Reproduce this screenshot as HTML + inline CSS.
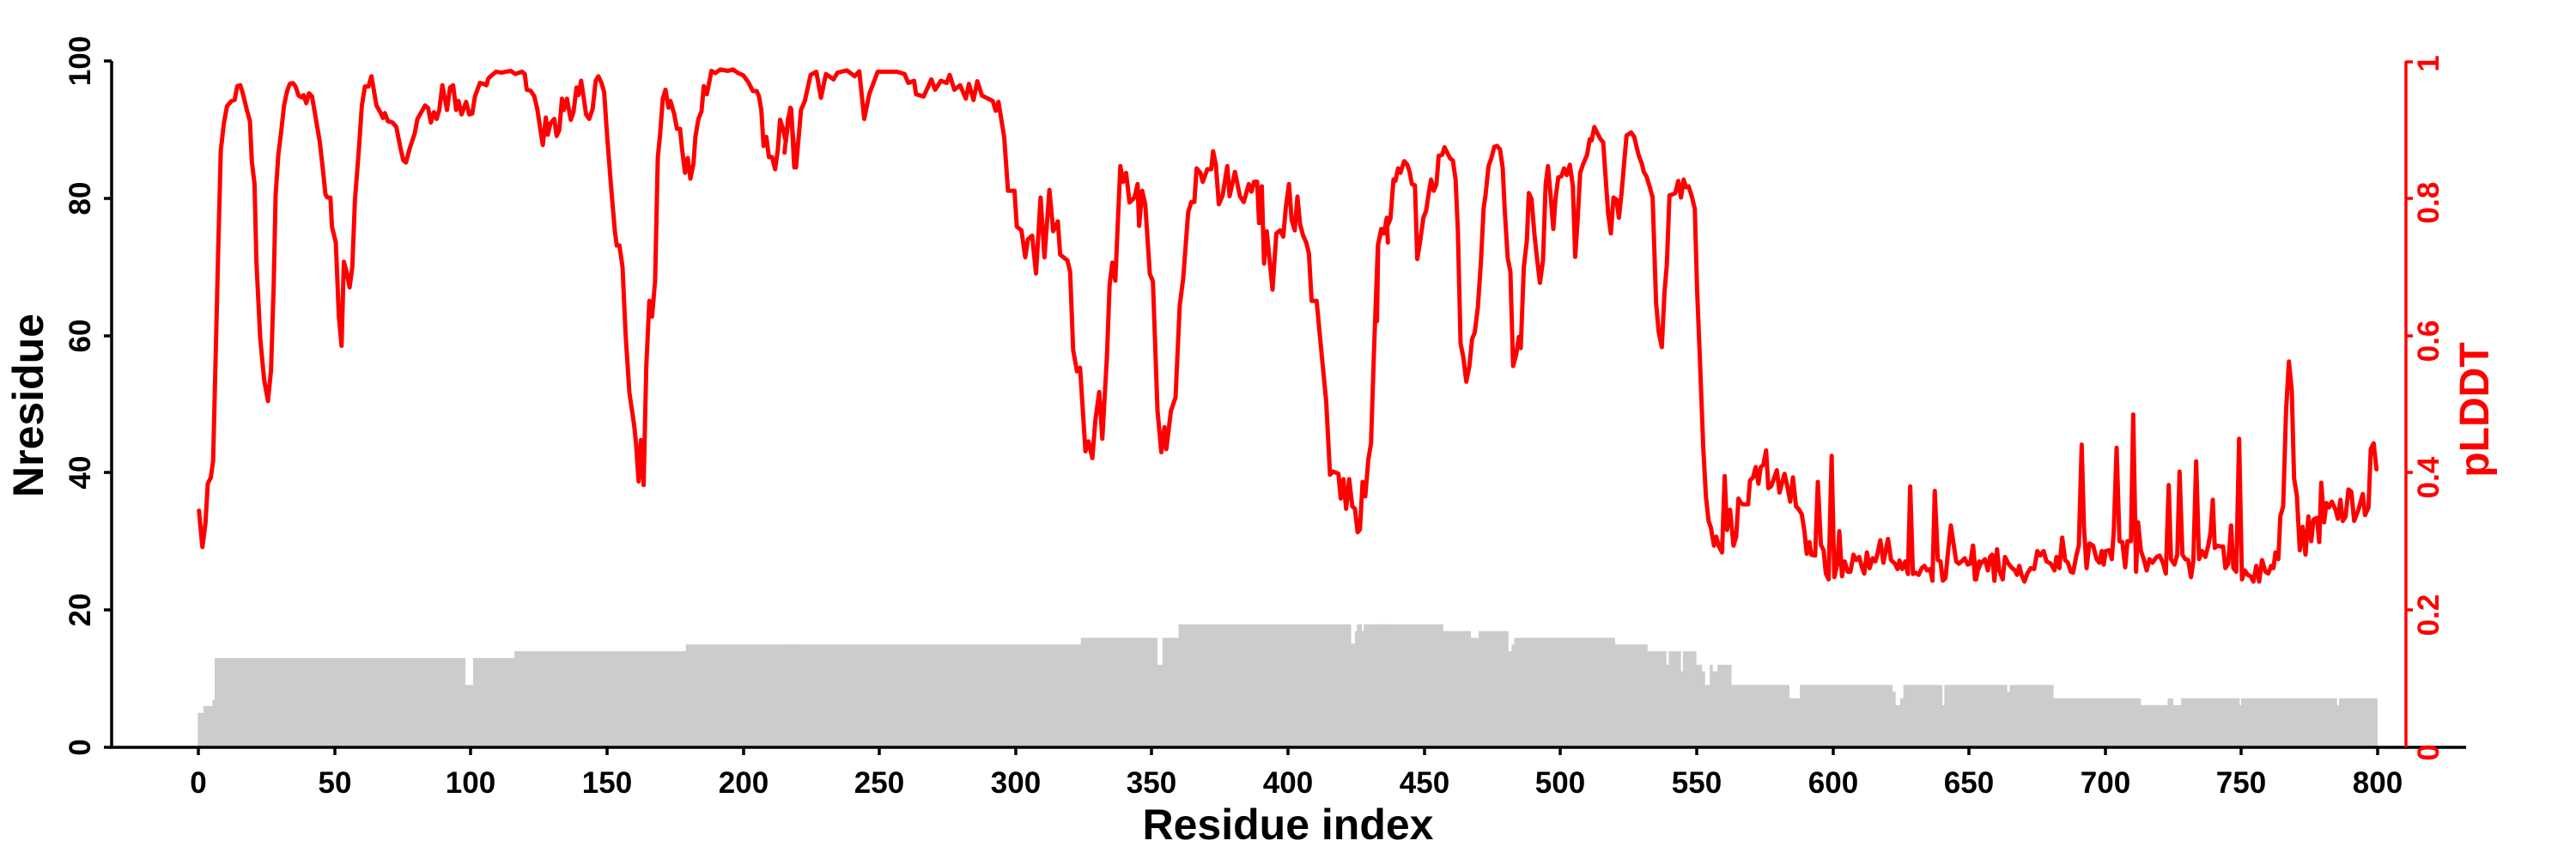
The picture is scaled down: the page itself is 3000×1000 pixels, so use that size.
<!DOCTYPE html>
<html><head><meta charset="utf-8"><style>
html,body{margin:0;padding:0;background:#fff;}
svg{display:block;}
text{font-family:"Liberation Sans",Arial,sans-serif;font-weight:bold;}
</style></head><body>
<svg width="3000" height="1000" viewBox="0 0 3000 1000" xmlns="http://www.w3.org/2000/svg">
<rect width="3000" height="1000" fill="#fff"/>
<g fill="#cccccc">
<g transform="translate(225,60) scale(0.44643,0.52296)">
<path d="M12,1548 V1472 H27 V1457 H50 V1443 H56 V1350 H710 V1410 H730 V1350 H838 V1335 H1285 V1320 H1572 V1548 Z"/>
</g>
<g transform="translate(915,60) scale(0.44643,0.52296)">
<path d="M0,1548 V1320 H770 V1305 H970 V1365 H983 V1305 H1025 V1275 H1475 V1318 H1485 V1290 H1490 V1275 H1503 V1290 H1508 V1275 H1572 V1548 Z"/>
</g>
<g transform="translate(1605,60) scale(0.44643,0.52296)">
<path d="M0,1548 V1275 H170 V1290 H242 V1305 H262 V1290 H340 V1335 H348 V1320 H355 V1305 H618 V1320 H703 V1335 H752 V1365 H758 V1335 H790 V1380 H795 V1335 H830 V1365 H845 V1380 H853 V1410 H865 V1365 H873 V1380 H885 V1365 H922 V1410 H1073 V1440 H1100 V1410 H1342 V1425 H1350 V1455 H1362 V1440 H1370 V1410 H1472 V1455 H1477 V1410 H1572 V1548 Z"/>
</g>
<g transform="translate(2295,60) scale(0.33333,0.52296)">
<path d="M0,1548 V1410 H128 V1425 H136 V1410 H290 V1440 H595 V1455 H688 V1440 H708 V1455 H735 V1440 H940 V1455 H945 V1440 H1280 V1455 H1287 V1440 H1422 V1548 Z"/>
</g>
</g>
<g fill="none" stroke="#ff0000" stroke-width="5" stroke-linejoin="round" stroke-linecap="round">
<g transform="translate(225,60) scale(0.44643,0.52296)">
<polyline vector-effect="non-scaling-stroke" points="15,1022 24,1103 32,1050 38,962 46,948 52,910 58,700 65,450 72,220 80,160 88,122 100,110 108,108 115,77 123,75 130,95 140,130 148,155 153,245 160,295 165,470 175,640 185,730 195,778 203,710 210,520 215,320 222,230 230,175 237,120 245,88 252,72 260,70 267,78 275,98 283,102 288,97 295,115 302,93 310,100 320,150 330,200 338,260 345,318 350,325 358,325 362,390 372,425 380,590 387,655 393,468 400,490 408,525 415,480 422,330 432,220 440,120 448,78 457,78 465,55 472,90 478,120 488,135 495,148 500,137 508,155 520,158 530,168 540,212 548,242 555,247 565,215 578,182 585,150 595,135 605,120 613,126 620,158 628,135 635,150 642,130 650,75 662,130 670,80 678,75 686,130 692,110 700,140 712,112 720,140 728,138 735,100 748,70 758,72 765,75 770,60 780,52 790,45 805,47 815,45 828,43 840,50 858,45 865,50 870,85 880,87 890,100 898,130 905,170 912,208 920,147 925,185 932,160 942,150 948,188 955,175 962,105 967,130 975,105 985,152 992,135 1000,80 1005,97 1012,65 1020,110 1025,140 1033,150 1042,128 1050,65 1057,55 1065,70 1072,90 1080,190 1090,300 1100,400 1105,432 1112,432 1120,480 1128,630 1138,760 1150,830 1155,870 1162,957 1168,865 1175,965 1182,700 1190,555 1197,590 1205,510 1212,235 1218,185 1225,105 1232,85 1240,125 1245,110 1255,140 1262,172 1270,172 1275,215 1283,270 1290,237 1297,283 1305,250 1310,190 1318,150 1326,133 1332,77 1340,95 1352,43 1362,48 1375,40 1395,43 1408,40 1420,47 1435,53 1448,68 1460,88 1470,88 1476,100 1482,130 1488,210 1495,190 1502,235 1510,235 1518,262 1525,220 1531,152 1538,170 1546,200 1552,148 1560,128 1568,258 1571,225"/>
</g>
<g transform="translate(915,60) scale(0.44643,0.52296)">
<polyline vector-effect="non-scaling-stroke" points="-3,225 0,200 12,125 27,258 40,130 50,110 65,52 80,45 92,103 105,50 125,62 135,47 160,42 180,55 192,44 205,150 218,95 240,45 265,45 290,45 310,50 320,70 335,65 340,95 360,100 380,62 390,85 405,65 420,70 428,52 440,85 455,75 470,105 478,72 490,108 500,66 512,98 540,110 548,132 555,112 570,190 580,310 597,310 603,390 615,398 625,458 632,418 643,410 653,494 665,325 675,458 688,308 698,400 710,378 716,452 735,465 742,490 750,665 760,712 768,704 782,890 790,868 800,905 808,820 818,758 826,862 838,680 845,520 852,470 860,510 865,410 873,255 880,290 888,270 897,336 910,325 918,295 922,388 930,310 938,340 950,495 958,512 970,800 980,892 988,836 993,885 1005,800 1017,770 1028,565 1037,505 1050,358 1058,335 1066,335 1072,260 1082,270 1088,290 1100,262 1110,262 1115,222 1122,250 1130,340 1140,320 1152,255 1158,322 1172,268 1185,322 1195,335 1208,295 1215,312 1222,290 1230,290 1235,382 1242,300 1248,472 1255,400 1270,530 1280,405 1290,398 1298,412 1305,345 1313,295 1320,375 1328,398 1335,323 1342,385 1350,410 1358,425 1365,450 1372,555 1385,555 1400,690 1410,778 1420,942 1428,935 1442,940 1448,995 1455,952 1462,1018 1470,952 1478,1012 1485,1018 1492,1070 1498,1064 1505,958 1512,990 1520,908 1527,872 1535,660 1545,430 1555,395 1562,400 1568,370 1571,425"/>
</g>
<g transform="translate(1605,60) scale(0.44643,0.52296)">
<polyline vector-effect="non-scaling-stroke" points="-3,600 0,430 8,395 15,405 22,393 32,372 40,285 45,288 52,260 58,270 68,244 76,252 82,268 88,295 96,298 102,462 110,420 118,370 125,355 132,315 138,285 145,310 152,295 158,232 167,230 173,213 180,225 188,238 195,243 202,285 208,400 215,650 222,680 230,735 238,700 245,640 252,625 260,570 268,470 275,350 280,320 288,255 295,238 303,212 310,210 318,218 325,260 330,350 338,460 345,490 352,700 360,675 367,635 372,660 380,480 388,420 393,315 400,328 408,410 415,465 422,515 430,465 437,295 443,255 450,322 457,395 463,325 470,280 478,278 485,260 492,275 500,252 508,300 514,457 520,380 527,270 535,250 545,230 552,195 557,198 564,168 572,182 580,195 587,202 595,300 600,360 607,405 614,325 622,330 628,370 635,315 642,245 648,187 660,180 668,190 675,215 680,232 688,250 693,268 700,278 708,300 716,325 725,560 732,625 740,658 747,535 753,475 760,320 768,318 775,315 783,288 790,325 797,285 803,302 810,300 818,322 826,350 832,530 840,700 848,880 855,990 862,1045 868,1060 876,1100 882,1080 888,1100 897,1115 904,945 910,1065 918,1020 927,1100 934,1080 940,995 946,1005 952,1008 960,1008 965,1008 970,955 978,948 985,925 992,962 998,925 1005,920 1012,888 1018,972 1025,968 1032,952 1040,932 1047,982 1053,962 1060,940 1068,970 1075,1002 1082,948 1090,1012 1098,1020 1105,1030 1112,1068 1118,1118 1125,1092 1130,1120 1140,1122 1147,958 1155,1098 1162,1110 1168,1162 1175,1175 1183,900 1190,1170 1198,1140 1203,1068 1210,1168 1217,1135 1225,1158 1232,1158 1240,1120 1247,1132 1255,1125 1262,1148 1268,1162 1275,1115 1282,1150 1290,1128 1297,1135 1302,1120 1310,1088 1318,1138 1330,1085 1338,1132 1348,1140 1355,1152 1360,1133 1367,1152 1375,1135 1382,1163 1388,968 1395,1163 1402,1160 1410,1165 1418,1150 1425,1145 1432,1155 1440,1152 1446,1178 1452,978 1460,1132 1467,1135 1473,1178 1480,1172 1487,1110 1494,1055 1500,1090 1508,1135 1515,1140 1522,1135 1530,1128 1538,1142 1545,1140 1552,1100 1560,1175 1568,1135"/>
</g>
<g transform="translate(2295,60) scale(0.33333,0.52296)">
<polyline vector-effect="non-scaling-stroke" points="-8,1140 0,1135 8,1100 15,1175 25,1155 35,1140 50,1130 60,1155 68,1125 75,1120 83,1178 92,1108 100,1155 112,1175 120,1125 132,1140 145,1150 155,1155 162,1165 170,1145 178,1165 188,1180 198,1162 210,1150 222,1152 233,1112 243,1122 255,1112 265,1135 280,1140 293,1155 300,1125 310,1150 320,1082 330,1132 340,1138 350,1158 358,1160 370,1120 378,1100 388,875 396,1060 405,1150 415,1095 428,1100 440,1130 450,1138 458,1112 465,1142 472,1112 485,1110 493,1130 500,1070 510,882 520,1090 530,1092 540,1148 548,1090 560,1090 568,808 578,1158 585,1048 595,1112 605,1130 615,1155 625,1130 635,1138 650,1125 660,1122 672,1138 682,1162 692,965 700,1130 712,1142 722,1120 730,935 740,1120 750,1130 760,1132 770,1170 778,1135 788,912 798,1130 808,1112 820,1125 830,1100 838,1072 846,998 853,1105 862,1100 875,1102 882,1102 890,1150 900,1140 910,1055 918,1150 928,1158 938,862 948,1175 958,1155 968,1165 978,1168 988,1180 998,1145 1008,1180 1018,1132 1030,1158 1040,1162 1050,1145 1058,1150 1065,1115 1075,1130 1082,1035 1092,1012 1102,800 1112,690 1122,755 1130,950 1140,990 1150,1110 1160,1058 1170,1120 1180,1035 1190,1090 1198,1042 1210,1038 1218,1092 1225,960 1235,1048 1243,1005 1252,1015 1262,1002 1275,1020 1283,1040 1292,998 1300,1045 1310,1035 1320,975 1330,980 1340,1045 1355,1020 1370,985 1378,1032 1390,1015 1398,885 1408,872 1418,930"/>
</g>
</g>
<g stroke="#000" stroke-width="3.5" fill="none">
<line x1="130" y1="71" x2="130" y2="871"/>
<line x1="128" y1="870" x2="2872" y2="870"/>
<line x1="121" y1="71" x2="130" y2="71"/>
<line x1="121" y1="231" x2="130" y2="231"/>
<line x1="121" y1="391" x2="130" y2="391"/>
<line x1="121" y1="550" x2="130" y2="550"/>
<line x1="121" y1="710" x2="130" y2="710"/>
<line x1="121" y1="870" x2="130" y2="870"/>
</g>
<g stroke="#000" stroke-width="3.5">
<line x1="231" y1="870" x2="231" y2="879"/><line x1="390" y1="870" x2="390" y2="879"/>
<line x1="548" y1="870" x2="548" y2="879"/><line x1="707" y1="870" x2="707" y2="879"/>
<line x1="866" y1="870" x2="866" y2="879"/><line x1="1024" y1="870" x2="1024" y2="879"/>
<line x1="1183" y1="870" x2="1183" y2="879"/><line x1="1341" y1="870" x2="1341" y2="879"/>
<line x1="1500" y1="870" x2="1500" y2="879"/><line x1="1659" y1="870" x2="1659" y2="879"/>
<line x1="1817" y1="870" x2="1817" y2="879"/><line x1="1976" y1="870" x2="1976" y2="879"/>
<line x1="2135" y1="870" x2="2135" y2="879"/><line x1="2293" y1="870" x2="2293" y2="879"/>
<line x1="2452" y1="870" x2="2452" y2="879"/><line x1="2610" y1="870" x2="2610" y2="879"/>
<line x1="2769" y1="870" x2="2769" y2="879"/>
</g>
<g font-size="35" text-anchor="middle" fill="#000">
<text x="231" y="923">0</text><text x="390" y="923">50</text><text x="548" y="923">100</text>
<text x="707" y="923">150</text><text x="866" y="923">200</text><text x="1024" y="923">250</text>
<text x="1183" y="923">300</text><text x="1341" y="923">350</text><text x="1500" y="923">400</text>
<text x="1659" y="923">450</text><text x="1817" y="923">500</text><text x="1976" y="923">550</text>
<text x="2135" y="923">600</text><text x="2293" y="923">650</text><text x="2452" y="923">700</text>
<text x="2610" y="923">750</text><text x="2769" y="923">800</text>
</g>
<g font-size="35" text-anchor="middle" fill="#000">
<text transform="translate(105,71) rotate(-90)">100</text>
<text transform="translate(105,231) rotate(-90)">80</text>
<text transform="translate(105,391) rotate(-90)">60</text>
<text transform="translate(105,550) rotate(-90)">40</text>
<text transform="translate(105,710) rotate(-90)">20</text>
<text transform="translate(105,870) rotate(-90)">0</text>
</g>
<text font-size="50" text-anchor="middle" transform="translate(50,472) rotate(-90)">Nresidue</text>
<text font-size="50" text-anchor="middle" x="1500" y="977">Residue index</text>
<g stroke="#ff0000" stroke-width="3.5">
<line x1="2802" y1="71" x2="2802" y2="870"/>
<line x1="2802" y1="72" x2="2810" y2="72"/>
<line x1="2802" y1="231" x2="2810" y2="231"/>
<line x1="2802" y1="391" x2="2810" y2="391"/>
<line x1="2802" y1="550" x2="2810" y2="550"/>
<line x1="2802" y1="710" x2="2810" y2="710"/>
</g>
<g font-size="35" text-anchor="middle" fill="#ff0000">
<text transform="translate(2840,74) rotate(-90)">1</text>
<text transform="translate(2840,236) rotate(-90)">0.8</text>
<text transform="translate(2840,397) rotate(-90)">0.6</text>
<text transform="translate(2840,556) rotate(-90)">0.4</text>
<text transform="translate(2840,716) rotate(-90)">0.2</text>
<text transform="translate(2840,876) rotate(-90)">0</text>
</g>
<text font-size="48" text-anchor="middle" fill="#ff0000" transform="translate(2898,477) rotate(-90)">pLDDT</text>
</svg>
</body></html>
